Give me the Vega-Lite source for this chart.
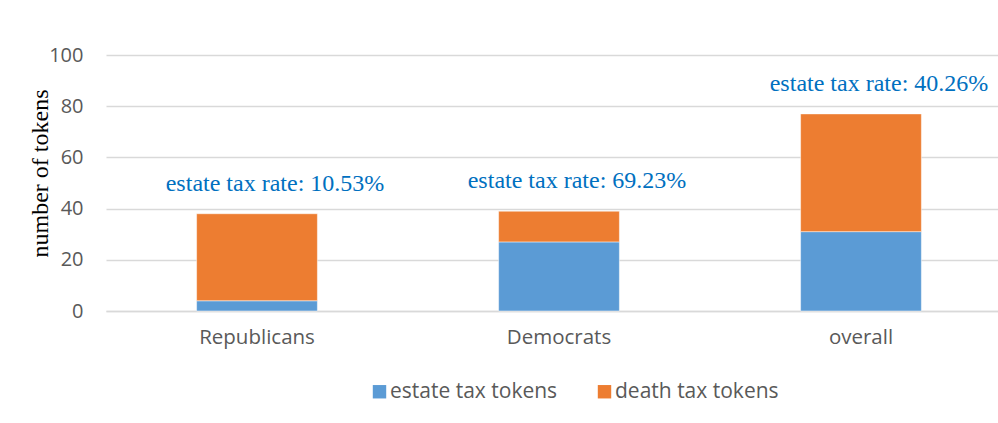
{
  "$schema": "https://vega.github.io/schema/vega-lite/v6.json",
  "autosize": "none",
  "width": 892,
  "height": 256,
  "padding": {"left": 106, "top": 55, "right": 0, "bottom": 112},
  "background": "white",
  "config": {"view": {"stroke": null}},
  "data": {
    "values": [
      {"group": "Republicans", "type": "estate tax tokens", "tokens": 4, "total": 38, "label": "estate tax rate: 10.53%"},
      {"group": "Republicans", "type": "death tax tokens", "tokens": 34, "total": 38, "label": "estate tax rate: 10.53%"},
      {"group": "Democrats", "type": "estate tax tokens", "tokens": 27, "total": 39, "label": "estate tax rate: 69.23%"},
      {"group": "Democrats", "type": "death tax tokens", "tokens": 12, "total": 39, "label": "estate tax rate: 69.23%"},
      {"group": "overall", "type": "estate tax tokens", "tokens": 31, "total": 77, "label": "estate tax rate: 40.26%"},
      {"group": "overall", "type": "death tax tokens", "tokens": 46, "total": 77, "label": "estate tax rate: 40.26%"}
    ]
  },
  "encoding": {
    "x": {
      "field": "group",
      "type": "nominal",
      "sort": ["Republicans", "Democrats", "overall"],
      "scale": {"range": [0, 906], "paddingInner": 0.6, "paddingOuter": 0.3},
      "axis": {
        "title": null,
        "labelAngle": 0,
        "labelFont": "Open Sans",
        "labelFontSize": 20.5,
        "labelColor": "#595959",
        "labelPadding": 16,
        "ticks": false,
        "domain": true,
        "domainColor": "#D9D9D9",
        "domainWidth": 1.5,
        "grid": false
      }
    }
  },
  "layer": [
    {
      "mark": {"type": "bar", "stroke": "#ffffff", "strokeWidth": 0.5},
      "encoding": {
        "y": {
          "field": "tokens",
          "type": "quantitative",
          "stack": "zero",
          "scale": {"domain": [0, 100]},
          "axis": {
            "title": "number of tokens",
            "titleFont": "Liberation Serif",
            "titleFontSize": 24,
            "titleFontWeight": "normal",
            "titleColor": "#000000",
            "titleAngle": -90,
            "titleX": -66,
            "titleY": 118,
            "titleAlign": "center",
            "titleBaseline": "middle",
            "values": [0, 20, 40, 60, 80, 100],
            "labelFont": "Open Sans",
            "labelFontSize": 20,
            "labelColor": "#595959",
            "labelPadding": 23,
            "ticks": false,
            "domain": false,
            "grid": true,
            "gridColor": "#D9D9D9",
            "gridWidth": 1.5
          }
        },
        "color": {
          "field": "type",
          "type": "nominal",
          "scale": {"domain": ["estate tax tokens", "death tax tokens"], "range": ["#5B9BD5", "#ED7D31"]},
          "legend": {
            "title": null,
            "orient": "none",
            "direction": "horizontal",
            "legendX": 263,
            "legendY": 326,
            "symbolType": "square",
            "symbolSize": 180,
            "symbolStrokeWidth": 0,
            "labelFont": "Open Sans",
            "labelFontSize": 21,
            "labelLimit": 400,
            "labelColor": "#595959",
            "labelOffset": 0,
            "columnPadding": 36
          }
        },
        "order": {"field": "type", "sort": "descending"}
      }
    },
    {
      "transform": [{"filter": "datum.type == 'estate tax tokens'"}],
      "mark": {"type": "text", "font": "Liberation Serif", "fontSize": 24, "color": "#0070C0", "dy": -30, "dx": 18, "baseline": "middle"},
      "encoding": {
        "y": {"field": "total", "type": "quantitative"},
        "text": {"field": "label"}
      }
    }
  ]
}
